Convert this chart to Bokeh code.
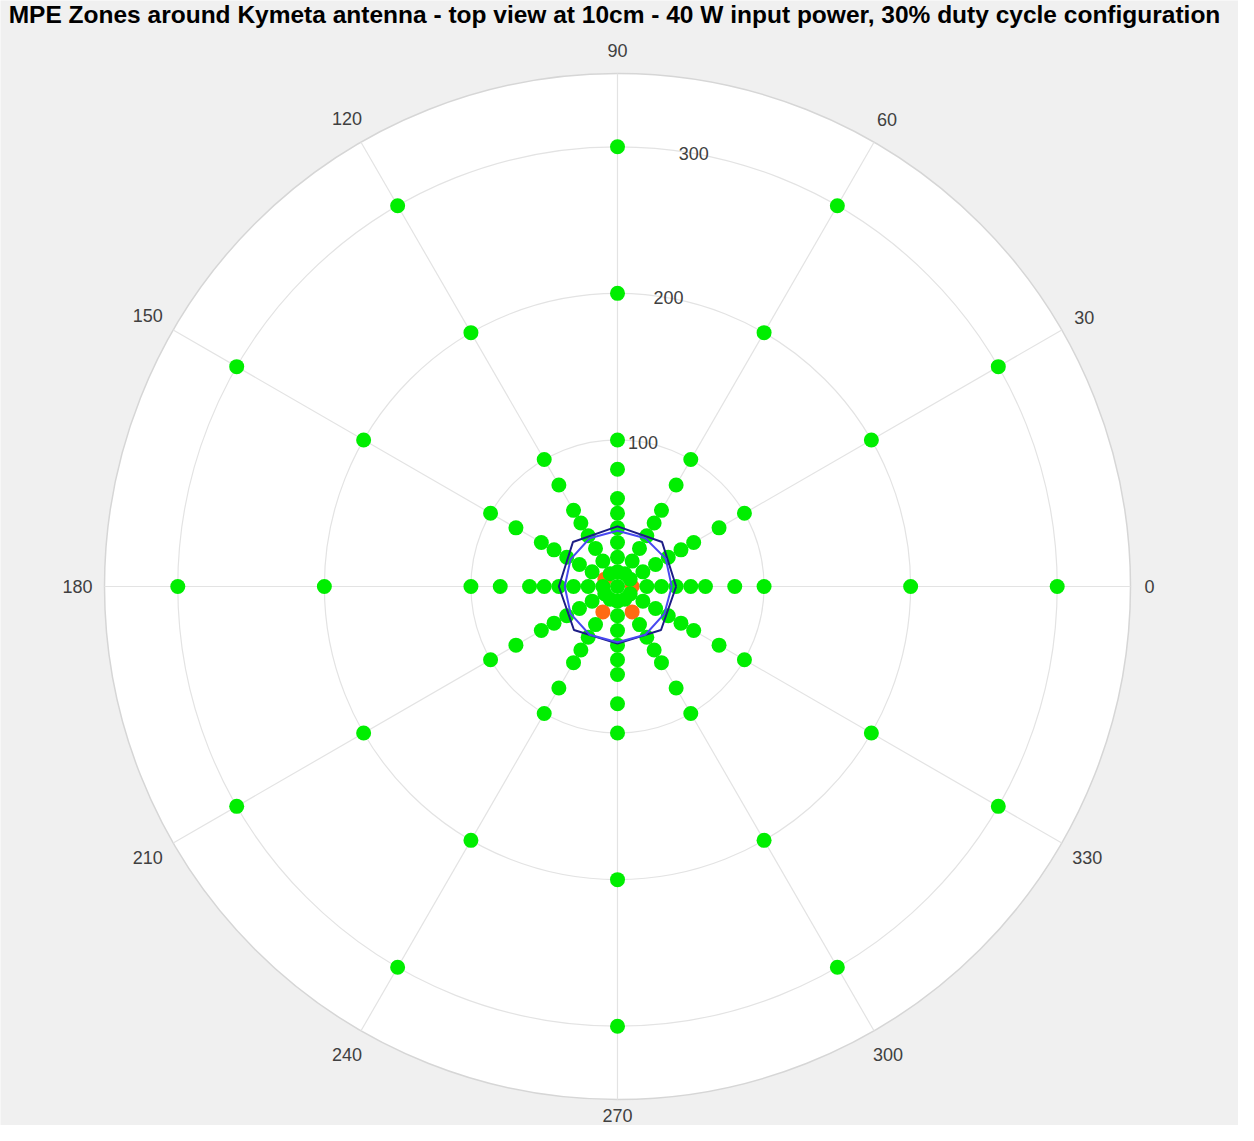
import numpy as np
from bokeh.plotting import figure
from bokeh.models import Range1d
from bokeh.embed import file_html
from bokeh.resources import INLINE
from bokeh.core.properties import value

# ---------------- data ----------------
title = "MPE Zones around Kymeta antenna - top view at 10cm - 40 W input power, 30% duty cycle configuration"
theta_ticks = [0, 30, 60, 90, 120, 150, 180, 210, 240, 270, 300, 330]
theta_labels = ["0", "30", "60", "90", "120", "150", "180", "210", "240", "270", "300", "330"]
r_ticks = [100, 200, 300]
r_tick_labels = ["100", "200", "300"]
r_max = 350

# measurement grid (angle in degrees, distance in cm)
meas_angles = [0, 30, 60, 90, 120, 150, 180, 210, 240, 270, 300, 330]
meas_radii = [0, 10, 20, 30, 40, 50, 60, 80, 100, 200, 300]

# points above the MPE limit (orange)
over_r = [10, 10, 20, 20]
over_theta = [0, 150, 240, 300]

# MPE boundary contours
b1_theta = [0, 45, 90, 135, 180, 225, 270, 315, 360]
b1_r = [40, 43, 41, 43, 40, 42, 39, 42, 40]
b2_theta = [0, 30, 60, 90, 120, 150, 180, 210, 240, 270, 300, 330, 360]
b2_r = [37, 38, 38, 38, 38, 37, 36, 37, 38, 38, 38, 37, 37]

# ---------------- layout ----------------
W, H = 1238, 1125
cx, cy = 617, 586          # polar centre in figure pixels
s = 513.0 / r_max          # pixels per unit

x0 = -cx / s
x1 = (W - cx) / s
y1 = cy / s
y0 = -(H - cy) / s

p = figure(width=W, height=H, x_range=Range1d(x0, x1), y_range=Range1d(y0, y1),
           output_backend="svg", toolbar_location=None, min_border=0)
p.axis.visible = False
p.grid.visible = False
p.outline_line_color = None
p.background_fill_color = "#f0f0f0"
p.border_fill_color = "#f0f0f0"

def pol(r, t):
    r = np.asarray(r, float)
    t = np.radians(np.asarray(t, float))
    return r * np.cos(t), r * np.sin(t)

# white disk
p.circle(x=[0], y=[0], radius=r_max, fill_color="white", line_color="#d6d6d6", line_width=1.5)
# grid circles
p.circle(x=[0] * len(r_ticks), y=[0] * len(r_ticks), radius=r_ticks,
         fill_color=None, line_color="#e3e3e3", line_width=1.2)
# spokes
sx, sy = pol([r_max] * len(theta_ticks), theta_ticks)
p.segment(x0=[0] * len(theta_ticks), y0=[0] * len(theta_ticks), x1=sx, y1=sy,
          line_color="#e3e3e3", line_width=1.2)

# theta labels
tl_x, tl_y = [], []
ymin_lab = y0 + 10.5 / s
for t, lbl in zip(theta_ticks, theta_labels):
    tr = np.radians(t)
    pad = 15 + 4 * len(lbl) * abs(np.cos(tr)) + 8 * abs(np.sin(tr))
    rr = r_max + pad / s
    tl_x.append(rr * np.cos(tr))
    tl_y.append(max(rr * np.sin(tr), ymin_lab))
p.text(x=tl_x, y=tl_y, text=theta_labels, text_align="center", text_baseline="middle",
       text_font=value("Liberation Sans"), text_font_size="18px", text_color="#404040")

# r tick labels at 80 degrees
rx, ry = pol(r_ticks, [80] * len(r_ticks))
p.text(x=rx, y=ry, text=r_tick_labels, text_align="center", text_baseline="middle",
       text_font=value("Liberation Sans"), text_font_size="18px", text_color="#404040")

# orange points (drawn first)
ox, oy = pol(over_r, over_theta)
p.scatter(x=ox, y=oy, size=15, fill_color="#ff6a13", line_color=None)

# green points
over_set = set(zip(over_r, over_theta))
gr, gt = [], []
for t in meas_angles:
    for r in meas_radii:
        if r == 0 and t != 0:
            continue
        if (r, t) in over_set:
            continue
        gr.append(r)
        gt.append(t)
gx, gy = pol(gr, gt)
p.scatter(x=gx, y=gy, size=15, fill_color="#00ee00", line_color=None)

# boundary contours
bx, by = pol(b1_r, b1_theta)
p.line(bx, by, line_color="#1c1c86", line_width=2)
bx2, by2 = pol(b2_r, b2_theta)
p.line(bx2, by2, line_color="#4848f0", line_width=2)

# title
p.text(x=[(622 - 625) / s], y=[(594 - 22) / s], text=[title], text_align="center",
       text_baseline="middle", text_font=value("Liberation Sans"), text_font_size="24.5px",
       text_font_style="bold", text_color="black")

html = file_html(p, INLINE)
html = html.replace("<body>", '<body style="background:#f0f0f0">', 1)
open("out.html", "w").write(html)
